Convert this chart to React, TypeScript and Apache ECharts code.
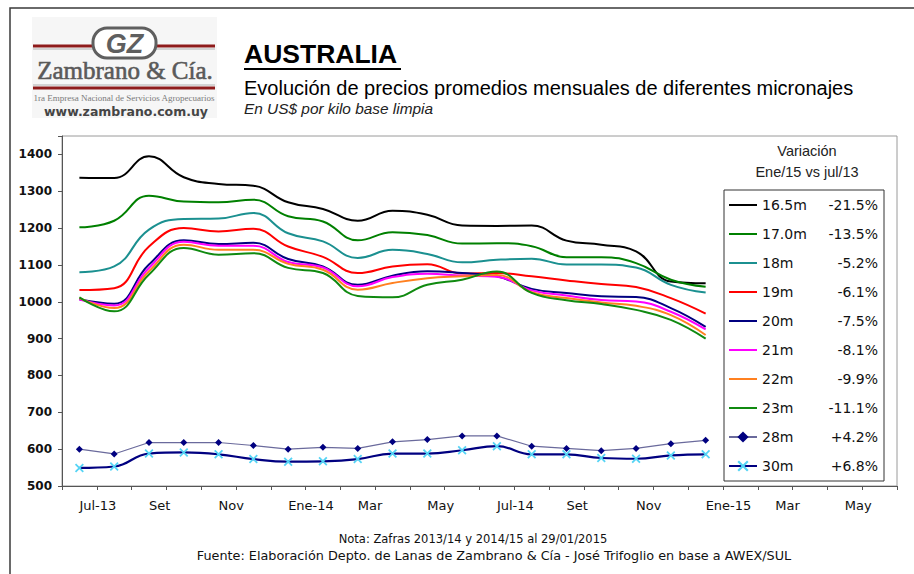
import React, { useEffect, useRef } from 'react';
import * as echarts from 'echarts';

const categories = [
  'Jul-13', 'Ago-13', 'Set-13', 'Oct-13', 'Nov-13', 'Dic-13',
  'Ene-14', 'Feb-14', 'Mar-14', 'Abr-14', 'May-14', 'Jun-14',
  'Jul-14', 'Ago-14', 'Set-14', 'Oct-14', 'Nov-14', 'Dic-14',
  'Ene-15', 'Feb-15', 'Mar-15', 'Abr-15', 'May-15', 'Jun-15',
];
const tickLabels = [
  'Jul-13', 'Ago', 'Set', 'Oct', 'Nov', 'Dic',
  'Ene-14', 'Feb', 'Mar', 'Abr', 'May', 'Jun',
  'Jul-14', 'Ago', 'Set', 'Oct', 'Nov', 'Dic',
  'Ene-15', 'Feb', 'Mar', 'Abr', 'May', 'Jun',
];

const seriesNames = ['16.5m', '17.0m', '18m', '19m', '20m', '21m', '22m', '23m', '28m', '30m'];
const variations = ['-21.5%', '-13.5%', '-5.2%', '-6.1%', '-7.5%', '-8.1%', '-9.9%', '-11.1%', '+4.2%', '+6.8%'];

const m165 = [1337, 1336, 1395, 1338, 1320, 1315, 1270, 1252, 1220, 1247, 1236, 1207, 1206, 1207, 1166, 1155, 1137, 1055, 1050];
const m170 = [1202, 1220, 1288, 1272, 1270, 1277, 1232, 1218, 1167, 1189, 1181, 1158, 1159, 1151, 1121, 1121, 1105, 1060, 1041];
const m18 = [1080, 1096, 1196, 1225, 1226, 1241, 1186, 1164, 1119, 1141, 1130, 1107, 1114, 1117, 1101, 1101, 1093, 1046, 1025];
const m19 = [1032, 1037, 1150, 1200, 1191, 1198, 1150, 1122, 1078, 1096, 1102, 1077, 1078, 1069, 1058, 1048, 1040, 1010, 968];
const m20 = [1007, 995, 1101, 1167, 1157, 1160, 1116, 1096, 1046, 1071, 1083, 1078, 1069, 1035, 1024, 1015, 1013, 983, 932];
const m21 = [1006, 990, 1092, 1163, 1152, 1152, 1108, 1093, 1042, 1067, 1076, 1071, 1068, 1031, 1017, 1005, 1001, 973, 925];
const m22 = [1010, 983, 1083, 1155, 1141, 1141, 1103, 1087, 1033, 1051, 1064, 1069, 1073, 1026, 1010, 998, 989, 964, 910];
const m23 = [1012, 974, 1074, 1146, 1128, 1132, 1092, 1078, 1016, 1012, 1046, 1060, 1082, 1024, 1004, 994, 978, 951, 900];
const m28 = [600, 587, 618, 618, 618, 610, 600, 605, 602, 620, 626, 636, 636, 608, 602, 596, 602, 615, 624];
const m30 = [549, 553, 588, 591, 586, 573, 566, 567, 573, 588, 588, 597, 608, 586, 586, 576, 574, 583, 586];

const yTicks = [500, 600, 700, 800, 900, 1000, 1100, 1200, 1300, 1400];

const smoothData = [m165, m170, m18, m19, m20, m21, m22, m23];
const smoothColors = ['#000000', '#008000', '#1b9090', '#ff0000', '#000080', '#ff00ff', '#ff8020', '#108a10'];

const X_SYMBOL = 'path://M0,1.4L1.4,0L5,3.6L8.6,0L10,1.4L6.4,5L10,8.6L8.6,10L5,6.4L1.4,10L0,8.6L3.6,5Z';
const LINE_ICON = 'path://M0,0L0.01,0L0,0.01Z M0,6L28,6L28,8L0,8Z M28,14L27.99,14L28,13.99Z';

export default function App() {
  const ref = useRef<HTMLDivElement>(null);

  useEffect(() => {
    if (!ref.current) return;
    const chart = echarts.init(ref.current, undefined, { renderer: 'svg' });

    const series: any[] = smoothData.map((d, i) => ({
      name: seriesNames[i],
      type: 'line',
      data: d,
      smooth: 0.45,
      symbol: 'none',
      lineStyle: { color: smoothColors[i], width: 2 },
      itemStyle: { color: smoothColors[i] },
    }));
    series.push({
      name: seriesNames[8],
      type: 'line',
      data: m28,
      smooth: false,
      symbol: 'diamond',
      symbolSize: 7,
      showSymbol: true,
      lineStyle: { color: '#6a6a9c', width: 1.2 },
      itemStyle: { color: '#000080' },
    });
    series.push({
      name: seriesNames[9],
      type: 'line',
      data: m30,
      smooth: 0.45,
      symbol: X_SYMBOL,
      symbolSize: 9,
      showSymbol: true,
      lineStyle: { color: '#000080', width: 2.2 },
      itemStyle: { color: '#55d4f5' },
    });

    const font = 'DejaVu Sans';

    const legendData = seriesNames.map((n, i) =>
      i < 8 ? { name: n, icon: LINE_ICON } : { name: n }
    );

    const txt = (text: string, x: number, y: number, fontStr: string, fill: string, align: string, extra: any = {}) => ({
      type: 'text',
      silent: true,
      style: {
        text,
        x,
        y,
        font: fontStr,
        fill,
        align,
        verticalAlign: 'middle',
        textAlign: align,
        textVerticalAlign: 'middle',
        ...extra,
      },
    });

    const option: any = {
      animation: false,
      backgroundColor: '#ffffff',
      grid: {
        left: 62,
        top: 136,
        width: 835,
        height: 350,
        show: true,
        borderColor: '#9a9a9a',
        borderWidth: 1,
        backgroundColor: '#ffffff',
      },
      xAxis: {
        type: 'category',
        data: categories,
        boundaryGap: true,
        axisLine: { show: true, lineStyle: { color: '#555', width: 1 } },
        axisTick: { show: true, interval: 0, length: 4, inside: false, lineStyle: { color: '#555' } },
        axisLabel: {
          interval: 1,
          align: 'left',
          margin: 13,
          fontFamily: font,
          fontSize: 13,
          color: '#111',
          formatter: (_v: string, i: number) => tickLabels[i],
        },
        splitLine: { show: false },
      },
      yAxis: {
        type: 'value',
        min: 500,
        max: 1450,
        interval: 100,
        axisLine: { show: true, lineStyle: { color: '#555', width: 1 } },
        axisTick: { show: true, length: 4, lineStyle: { color: '#555' } },
        axisLabel: {
          margin: 10,
          fontFamily: font,
          fontSize: 12,
          fontWeight: 'bold',
          color: '#111',
          formatter: (v: number) => (yTicks.indexOf(v) >= 0 ? String(v) : ''),
        },
        splitLine: { show: false },
      },
      legend: {
        orient: 'vertical',
        left: 724,
        top: 190,
        padding: [8, 6, 8, 4],
        itemWidth: 28,
        itemHeight: 14,
        itemGap: 15,
        borderColor: '#333',
        borderWidth: 1,
        backgroundColor: '#ffffff',
        selectedMode: false,
        data: legendData,
        formatter: (name: string) => {
          const i = seriesNames.indexOf(name);
          return `{a|${name}}{b|${variations[i]}}`;
        },
        textStyle: {
          fontFamily: font,
          fontSize: 14,
          color: '#000',
          rich: {
            a: { width: 58, fontFamily: font, fontSize: 14, color: '#111', lineHeight: 16 },
            b: { width: 58, align: 'right', fontFamily: font, fontSize: 14, color: '#111', lineHeight: 16 },
          },
        },
      },
      graphic: [
        {
          type: 'rect',
          silent: true,
          shape: { x: 10, y: 8, width: 930, height: 600 },
          style: { fill: 'none', stroke: '#3a3a3a', lineWidth: 1.5 },
          z: 0,
        },
        {
          type: 'rect',
          silent: true,
          shape: { x: 32, y: 17, width: 185, height: 101 },
          style: { fill: '#f6f6f6' },
        },
        { type: 'line', silent: true, shape: { x1: 33, y1: 46, x2: 93, y2: 46 }, style: { stroke: '#8e1b1b', lineWidth: 3 } },
        { type: 'line', silent: true, shape: { x1: 156, y1: 46, x2: 215, y2: 46 }, style: { stroke: '#8e1b1b', lineWidth: 3 } },
        { type: 'line', silent: true, shape: { x1: 33, y1: 49, x2: 93, y2: 49 }, style: { stroke: '#b0b0b0', lineWidth: 1 } },
        { type: 'line', silent: true, shape: { x1: 156, y1: 49, x2: 215, y2: 49 }, style: { stroke: '#b0b0b0', lineWidth: 1 } },
        {
          type: 'rect',
          silent: true,
          shape: { x: 93, y: 28, width: 63, height: 30, r: 14 },
          style: { fill: '#ffffff', stroke: '#5f5f5f', lineWidth: 3 },
        },
        txt('GZ', 124.5, 43.5, 'italic bold 27px "Liberation Sans"', '#5f5f5f', 'center'),
        txt('Zambrano & Cía.', 125, 70, '25px "Liberation Serif"', '#5a5a5a', 'center', { stroke: '#5a5a5a', lineWidth: 0.6 }),
        { type: 'line', silent: true, shape: { x1: 33, y1: 85, x2: 215, y2: 85 }, style: { stroke: '#b0b0b0', lineWidth: 1 } },
        { type: 'line', silent: true, shape: { x1: 33, y1: 88, x2: 215, y2: 88 }, style: { stroke: '#8e1b1b', lineWidth: 3 } },
        txt('1ra Empresa Nacional de Servicios Agropecuarios', 124, 98, '9px "Liberation Serif"', '#7a7a7a', 'center'),
        txt('www.zambrano.com.uy', 126, 111, 'bold 12.5px "DejaVu Sans"', '#454545', 'center'),
        txt('AUSTRALIA', 244, 54, 'bold 26.5px "Liberation Sans"', '#000', 'left'),
        { type: 'line', silent: true, shape: { x1: 244, y1: 69, x2: 401, y2: 69 }, style: { stroke: '#000', lineWidth: 2 } },
        txt('Evolución de precios promedios mensuales de diferentes micronajes', 244, 88, '20px "Liberation Sans"', '#000', 'left'),
        txt('En US$ por kilo base limpia', 244, 108, 'italic 15.4px "Liberation Sans"', '#222', 'left'),
        txt('Variación', 807, 151, '14.5px "Liberation Sans"', '#222', 'center'),
        txt('Ene/15 vs jul/13', 807, 172, '14.5px "Liberation Sans"', '#222', 'center'),
        txt('Nota: Zafras 2013/14 y 2014/15 al 29/01/2015', 473, 539, '11.5px "DejaVu Sans"', '#111', 'center'),
        txt('Fuente: Elaboración Depto. de Lanas de Zambrano & Cía - José Trifoglio en base a AWEX/SUL', 494, 555, '12.8px "DejaVu Sans"', '#111', 'center'),
      ],
      series,
    };

    chart.setOption(option);
    return () => {
      chart.dispose();
    };
  }, []);

  return (
    <div
      ref={ref}
      style={{ position: 'fixed', left: 0, top: 0, width: 914, height: 574, background: '#fff' }}
    />
  );
}
